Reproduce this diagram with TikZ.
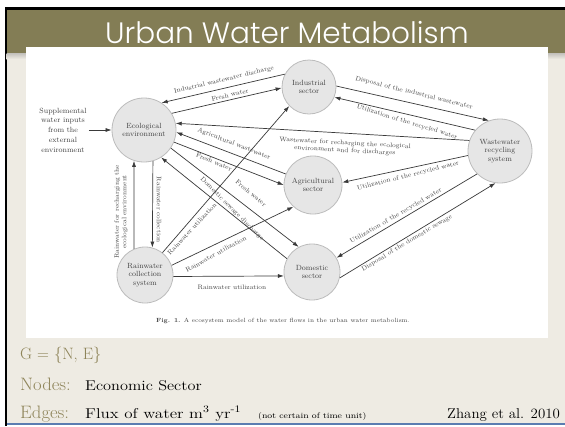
\documentclass[tikz,border=0pt]{standalone}
\usepackage{fontspec}
\IfFontExistsTF{Poppins Light}
  {\newfontfamily\titlefont{Poppins Light}}
  {\newfontfamily\titlefont{Poppins}}
\usetikzlibrary{arrows.meta}

\definecolor{slidebg}{HTML}{EEEBE3}
\definecolor{titlebar}{HTML}{837D55}
\definecolor{olivetext}{HTML}{8E8459}
\definecolor{nodefill}{HTML}{E6E6E6}
\definecolor{nodeline}{HTML}{BCBCBC}
\definecolor{flow}{HTML}{3A3A3A}
\definecolor{lbl}{HTML}{444444}
\definecolor{rulecol}{HTML}{5B7DB1}

\tikzset{
  sector/.style={circle, draw=nodeline, fill=nodefill, line width=0.8pt,
    inner sep=0pt, align=center, text=lbl, font=\fontsize{7.5}{8.5}\selectfont},
  flowline/.style={draw=flow, line width=0.7pt, -{Latex[length=6pt,width=4pt]}},
  flowlabel/.style={text=lbl, font=\fontsize{6.5}{7.5}\selectfont, inner sep=0pt, align=center},
  olive/.style={text=olivetext, inner sep=0pt, anchor=base west},
  plain/.style={text=black, inner sep=0pt, anchor=base west},
}
% a wide serif, close to the slide's body face
\newcommand{\widetext}[2]{\scalebox{#1}[1]{#2}}

\begin{document}
\begin{tikzpicture}[x=1pt,y=-1pt]
\useasboundingbox (0,0) rectangle (565,426);
% slide background and frame
\fill[white] (0,0) rectangle (565,426);
\fill[slidebg] (6,9) rectangle (565,423);
\fill[black] (5,7) rectangle (565,9.5);
\fill[black] (5,7) rectangle (6.5,426);
\fill[rulecol] (6.5,423) rectangle (565,424.6);

% title bar with its soft shadow
\shade[top color=slidebg!60!gray, bottom color=slidebg] (6.5,53) rectangle (565,59);
\fill[titlebar] (6.5,9.5) rectangle (565,53);
\node[text=white, inner sep=0pt, anchor=base, font=\titlefont\fontsize{29.5}{29.5}\selectfont]
  (title) at (287,43) {Urban Water Metabolism};

% figure panel
\fill[white] (26,47) rectangle (548,338);

% sectors
\node[sector, minimum size=64pt] (eco) at (144,130) {Ecological\\environment};
\node[sector, minimum size=54pt] (ind) at (309,87) {Industrial\\sector};
\node[sector, minimum size=64pt] (was) at (500,151) {Wastewater\\recycling\\system};
\node[sector, minimum size=58pt] (agr) at (313,185) {Agricultural\\sector};
\node[sector, minimum size=56pt] (dom) at (312,272) {Domestic\\sector};
\node[sector, minimum size=56pt] (rai) at (145,275) {Rainwater\\collection\\system};
\node[flowlabel, font=\fontsize{7.5}{9.7}\selectfont, inner sep=2pt] (sup) at (63,130)
  {Supplemental\\water inputs\\from the\\external\\environment};

% water flows
\draw[flowline] (sup) -- (eco);
\draw[flowline] (ind.152) -- (eco.57);
\draw[flowline] (eco.31) -- (ind.182);
\draw[flowline] (was.161) -- (eco.12);
\draw[flowline] (agr.158) -- (eco.-4);
\draw[flowline] (eco.-22) -- (agr.180);
\draw[flowline] (eco.-34) -- (dom.118);
\draw[flowline] (dom.152) -- (eco.-58);
\draw[flowline] (ind.2) -- (was.110);
\draw[flowline] (was.140) -- (ind.-22);
\draw[flowline] (was.188) -- (agr.5);
\draw[flowline] (was.225) -- (dom.30);
\draw[flowline] (dom.-12) -- (was.262);
\draw[flowline] (rai.52) -- (ind.224);
\draw[flowline] (rai.20) -- (agr.228);
\draw[flowline] (rai.-3) -- (dom.188);
\draw[flowline] (rai.113) -- (eco.252);
\draw[flowline] (eco.286) -- (rai.75);

% flow labels
\node[flowlabel, rotate=13.5] (l1) at (224,80) {Industrial wastewater discharge};
\node[flowlabel, rotate=13] (l2) at (230,95) {Fresh water};
\node[flowlabel, rotate=-3] (l3) at (345,147) {Wastewater for recharging the ecological\\environment and for discharges};
\node[flowlabel, rotate=-21] (l4) at (234,144) {Agricultural wastewater};
\node[flowlabel, rotate=-22] (l5) at (214,162) {Fresh water};
\node[flowlabel, rotate=-40] (l6) at (251,193) {Fresh water};
\node[flowlabel, rotate=-45] (l7) at (232,209) {Domestic sewage discharge};
\node[flowlabel, rotate=-14] (l8) at (414,93) {Disposal of the industrial wastewater};
\node[flowlabel, rotate=-17] (l9) at (407,122) {Utilization of the recycled water};
\node[flowlabel, rotate=14] (l10) at (408,176) {Utilization of the recycled water};
\node[flowlabel, rotate=30] (l11) at (396,216) {Utilization of the recycled water};
\node[flowlabel, rotate=31] (l12) at (407,243) {Disposal of the domestic sewage};
\node[flowlabel, rotate=47] (l13) at (192,229) {Rainwater utilization};
\node[flowlabel, rotate=29] (l14) at (216,254) {Rainwater utilization};
\node[flowlabel] (l15) at (232,287) {Rainwater utilization};
\node[flowlabel, rotate=90] (l16) at (121,212) {Rainwater for recharging the\\ecological environment};
\node[flowlabel, rotate=-90] (l17) at (159,210) {Rainwater collection};

\node[flowlabel, font=\fontsize{6}{6.5}\selectfont] (cap) at (283,321)
  {\textbf{Fig. 1.} A ecosystem model of the water flows in the urban water metabolism.};

% notes below the figure
\node[olive, font=\fontsize{16.5}{16.5}\selectfont] (g) at (20,359) {G = \{N, E\}};
\node[olive, font=\fontsize{18}{18}\selectfont] (nodes) at (20,390) {\widetext{1.04}{Nodes:}};
\node[plain, font=\fontsize{14.2}{14.2}\selectfont] (nodesv) at (85,390) {\widetext{1.15}{Economic Sector}};
\node[olive, font=\fontsize{18}{18}\selectfont] (edges) at (20,418) {\widetext{1.04}{Edges:}};
\node[plain, font=\fontsize{14.2}{14.2}\selectfont] (edgesv) at (85,418)
  {\widetext{1.2}{Flux of water m\textsuperscript{3} yr\textsuperscript{-1}}};
\node[plain, font=\fontsize{8}{8}\selectfont] (unit) at (258,418) {\widetext{1.15}{(not certain of time unit)}};
\node[plain, font=\fontsize{14.2}{14.2}\selectfont] (cite) at (447,418) {\widetext{1.05}{Zhang et al. 2010}};
\end{tikzpicture}
\end{document}
